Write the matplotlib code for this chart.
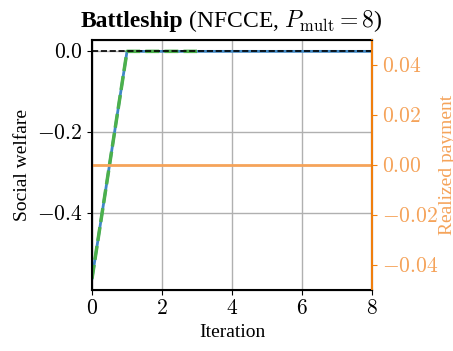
import matplotlib
matplotlib.use("Agg")
import matplotlib.pyplot as plt

plt.rcParams['font.family'] = 'serif'
plt.rcParams['font.serif'] = ['Liberation Serif']
plt.rcParams['mathtext.fontset'] = 'cm'
plt.rcParams['font.size'] = 15.5

iters = [0, 1, 2, 3, 4, 5, 6, 7, 8]
welfare_blue = [-0.561, 0, 0, 0, 0, 0, 0, 0, 0]
iters_green = [0, 1, 2, 3]
welfare_green = [-0.561, 0, 0, 0]
payment = [0, 0, 0, 0, 0, 0, 0, 0, 0]
optimum = 0.0

fig = plt.figure(figsize=(4.53, 3.51), dpi=100)
ax = fig.add_axes([92/453, 1-290/351, 280/453, 250/351])

ax.plot(iters, welfare_blue, color='#3f88c5', lw=2)
ax.plot(iters_green, welfare_green, color='#4cb04c', lw=2.5, ls=(0, (4, 1.5)))
ax.axhline(optimum, color='black', ls='--', lw=1.2)
ax.set_xlim(0, 8)
ax.set_xticks([0, 2, 4, 6, 8])
ax.set_xticklabels(['$0$', '$2$', '$4$', '$6$', '$8$'])
ax.set_yticks([0.0, -0.2, -0.4])
ax.set_yticklabels(['$0.0$', '$-0.2$', '$-0.4$'])
ax.grid(True, color='#b0b0b0', lw=1)
ax.set_xlabel('Iteration', fontsize=14)
ax.set_ylabel('Social welfare', fontsize=14)
for s in ax.spines.values():
    s.set_linewidth(1.5)

# title: bold part in Times bold, rest normal
r = fig.canvas.get_renderer()
t1 = fig.text(0, 0, 'Battleship', fontsize=17, fontweight='bold')
t2 = fig.text(0, 0, r' (NFCCE, $P_{\mathrm{mult}} = 8$)', fontsize=17)
w1 = t1.get_window_extent(r).width
w2 = t2.get_window_extent(r).width
cx = (92 + 372) / 2
x0 = cx - (w1 + w2) / 2
ty = 1 - 27 / 351
t1.set_position((x0 / 453, ty))
t2.set_position(((x0 + w1) / 453, ty))

ax2 = ax.twinx()
orange = '#f07f0e'
ax2.plot(iters, payment, color='#f5a35a', lw=2)
ax2.set_ylim(-0.05, 0.05)
ax2.set_yticks([-0.04, -0.02, 0.0, 0.02, 0.04])
ax2.set_yticklabels(['$-0.04$', '$-0.02$', '$0.00$', '$0.02$', '$0.04$'])
ax2.tick_params(axis='y', colors=orange, labelcolor='#f5a35a')
ax2.spines['right'].set_color(orange)
ax2.spines['right'].set_linewidth(1.5)
ax2.set_ylabel('Realized payment', color='#f5a35a', fontsize=14, labelpad=1)

fig.savefig('out.png', dpi=100)
